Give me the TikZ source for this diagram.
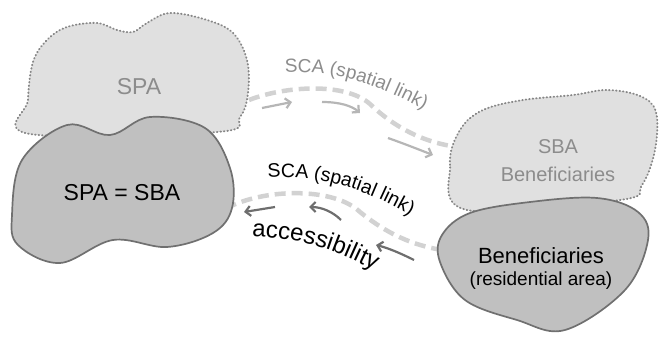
\documentclass[tikz,border=0pt]{standalone}
\usepackage{fontspec}
\setmainfont{Liberation Sans}
\usetikzlibrary{arrows.meta,decorations.text}
\definecolor{lightfill}{RGB}{224,224,224}
\definecolor{dotline}{RGB}{135,135,135}
\definecolor{darkfill}{RGB}{192,192,192}
\definecolor{darkline}{RGB}{112,112,112}
\definecolor{paletext}{RGB}{140,140,140}
\definecolor{dashgray}{RGB}{210,210,210}
\definecolor{arrowlight}{RGB}{182,182,182}
\definecolor{arrowdark}{RGB}{110,110,110}
\begin{document}
\begin{tikzpicture}[x=1pt,y=-1pt,
  ghost/.style={fill=lightfill, draw=dotline, line width=1.9pt, dash pattern=on 0.6pt off 2.9pt, line cap=round},
  solidblob/.style={fill=darkfill, draw=darkline, line width=1.7pt},
  linkdash/.style={draw=dashgray, line width=4.5pt, dash pattern=on 11pt off 6pt},
  flowlight/.style={draw=arrowlight, line width=2.2pt, -{Straight Barb[length=5pt,width=10pt]}},
  flowdark/.style={draw=arrowdark, line width=2.2pt, -{Straight Barb[length=5pt,width=10pt]}},
  blobtext/.style={font=\fontsize{23}{27}\selectfont, align=center}
]
\useasboundingbox (0,0) rectangle (660,337);

% connector end points
\coordinate (spaout) at (249,100);
\coordinate (sbain) at (458,147);
\coordinate (eqin) at (231,206);
\coordinate (benout) at (442,250);

% dashed spatial links
\draw[linkdash] (spaout) .. controls (285,86) and (345,82) .. (370,104)
  .. controls (395,128) and (425,143) .. (sbain);
\draw[linkdash] (benout) .. controls (405,244) and (380,228) .. (360,212)
  .. controls (335,188) and (270,188) .. (eqin);

% blobs
\path[ghost] plot[smooth cycle, tension=0.6] coordinates
  {(30,134) (28,100) (33,62) (47,40) (67,27) (97,23) (117,30) (133,32) (147,23) (170,13) (207,20) (233,33) (247,60) (248,93) (240,117) (217,132)};
\node[blobtext, text=paletext] (spa) at (139,87) {SPA};

\path[solidblob] plot[smooth cycle, tension=0.6] coordinates
  {(12,215) (22,160) (67,125) (110,135) (150,117) (205,128) (230,168) (232,208) (213,233) (167,247) (113,240) (60,263) (18,245)};
\node[blobtext] (spasba) at (122,193) {SPA = SBA};

\path[ghost] plot[smooth cycle, tension=0.6] coordinates
  {(467,210) (450,165) (460,130) (483,110) (523,100) (573,95) (607,90) (640,96) (656,112) (655,150) (642,185) (620,200)};
\node[blobtext, text=paletext, font=\fontsize{20}{28}\selectfont] (sba) at (558,161) {SBA\\Beneficiaries};

\path[solidblob] plot[smooth cycle, tension=0.6] coordinates
  {(442,235) (470,213) (530,202) (597,198) (638,212) (648,240) (625,290) (565,330) (517,320) (465,300) (440,262)};
\node[blobtext, font=\fontsize{22}{25}\selectfont] (ben) at (541,268)
  {Beneficiaries\\[-3pt]{\fontsize{19}{22}\selectfont(residential area)}};

% flow arrows
\draw[flowlight] (262,108) -- (292,102);
\draw[flowlight] (322,102) .. controls (340,102) and (352,106) .. (360,113);
\draw[flowlight] (388,138) .. controls (405,144) and (420,150) .. (433,155);

\draw[flowdark] (275,207) -- (244,212);
\draw[flowdark] (341,220) .. controls (333,212) and (322,207) .. (309,207);
\draw[flowdark] (414,260) .. controls (400,253) and (388,248) .. (376,245);

% curved labels
\path[decorate, decoration={text along path, text align=left,
  text={|\fontsize{19}{19}\selectfont\color{paletext}|SCA (spatial link)}}]
  (285,73) .. controls (330,70) and (370,80) .. (428,112);
\path[decorate, decoration={text along path, text align=left,
  text={|\fontsize{19.5}{19}\selectfont|SCA (spatial link)}}]
  (268,178) .. controls (315,174) and (362,186) .. (418,220);
\path[decorate, decoration={text along path, text align=left,
  text={|\fontsize{24}{24}\selectfont|accessibility}}]
  (252,237) .. controls (300,238) and (335,248) .. (386,277);
\end{tikzpicture}
\end{document}
